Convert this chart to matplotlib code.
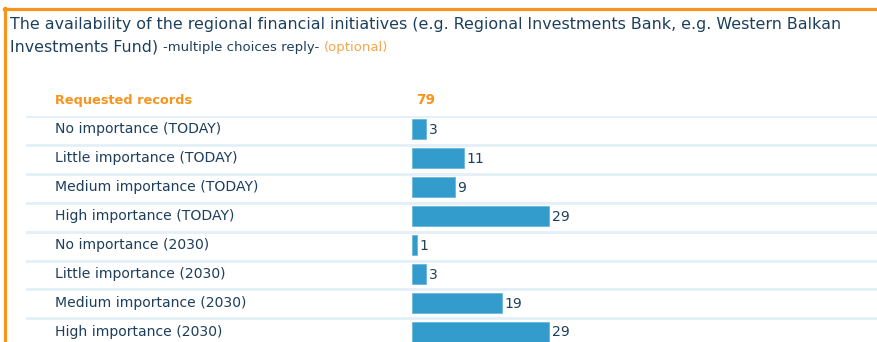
import matplotlib
matplotlib.use("Agg")
import matplotlib.pyplot as plt
import matplotlib.transforms as mtransforms
from matplotlib.lines import Line2D

# answer categories and counts
categories = [
    "No importance (TODAY)",
    "Little importance (TODAY)",
    "Medium importance (TODAY)",
    "High importance (TODAY)",
    "No importance (2030)",
    "Little importance (2030)",
    "Medium importance (2030)",
    "High importance (2030)",
]
counts = [3, 11, 9, 29, 1, 3, 19, 29]
requested_records = 79

title_line1 = ("The availability of the regional financial initiatives "
               "(e.g. Regional Investments Bank, e.g. Western Balkan")
title_line2 = "Investments Fund)"
subtitle = "-multiple choices reply-"
optional = "(optional)"

ORANGE = "#f7941d"
NAVY = "#1d3f5c"
BAR = "#339ccc"
GRID = "#e4eff7"

W, H = 878, 342
DPI = 100
fig = plt.figure(figsize=(W / DPI, H / DPI), dpi=DPI)
plt.rcParams['font.family'] = ['DejaVu Sans']


def fx(px):
    return px / W


def fy(py):
    return 1 - py / H


# orange frame on top and left
fig.add_artist(Line2D([fx(4), fx(878)], [fy(9), fy(9)], color=ORANGE, lw=2.3))
fig.add_artist(Line2D([fx(5.5), fx(5.5)], [fy(8), fy(342)], color=ORANGE, lw=2.3))

# title
fig.text(fx(10), fy(25), title_line1, color=NAVY, fontsize=11.45, va="center")
t2 = fig.text(fx(10), fy(47), title_line2, color=NAVY, fontsize=11.45, va="center")
fig.canvas.draw()
r = fig.canvas.get_renderer()
x = t2.get_window_extent(r).x1 + 5
t3 = fig.text(x / W, fy(48), subtitle, color=NAVY, fontsize=9.5, va="center")
x = t3.get_window_extent(r).x1 + 5
fig.text(x / W, fy(48), optional, color="#f7a54c", fontsize=9.5, va="center")

# bar area: from x=26 to right edge, rows start at y=116
row_h = 28.9
px_per_unit = 4.73
left_px, zero_px = 26, 412
top_px = 116
ax = fig.add_axes([fx(left_px), 0, fx(W - left_px), fy(top_px)])
ax.set_xlim(-(zero_px - left_px) / px_per_unit, (W - zero_px) / px_per_unit)
ax.set_ylim((H - top_px) / row_h, 0)
ax.axis("off")

ypos = [i + 0.46 for i in range(len(counts))]
ax.barh(ypos, counts, height=20 / row_h, color=BAR, edgecolor="#5fb2da",
        linewidth=0.5, zorder=3)

for i in range(len(categories) + 1):
    ax.axhline(i, color=GRID, lw=2, zorder=1)

lab_tr = mtransforms.blended_transform_factory(fig.transFigure, ax.transData)
for y, cat, v in zip(ypos, categories, counts):
    ax.text(fx(55), y, cat, transform=lab_tr, color=NAVY, fontsize=10.1,
            va="center", ha="left")
    ax.text(v + 0.5, y + 0.03, str(v), color=NAVY, fontsize=10.1,
            va="center", ha="left")

ax.text(fx(55), -0.55, "Requested records", transform=lab_tr, color=ORANGE,
        fontsize=9.3, fontweight="bold", va="center", clip_on=False)
ax.text(0.8, -0.55, str(requested_records), color=ORANGE, fontsize=9.8,
        fontweight="bold", va="center", clip_on=False)

fig.savefig("out.png", dpi=DPI)
